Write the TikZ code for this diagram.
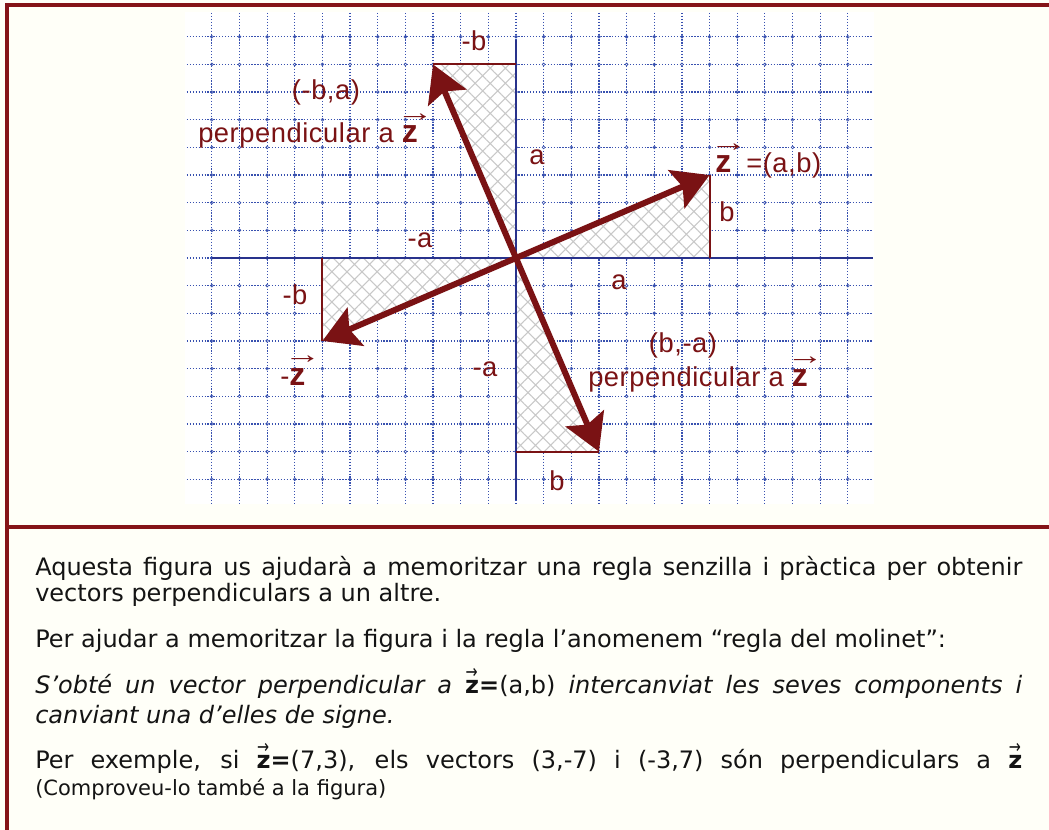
\documentclass[tikz,border=0pt]{standalone}
\usepackage{fontspec}
\setmainfont{DejaVu Sans}
\newfontfamily\labfont[LetterSpace=2]{Liberation Sans}
\usetikzlibrary{arrows.meta,patterns.meta}
\definecolor{framec}{RGB}{133,20,24}
\definecolor{vecc}{RGB}{122,18,20}
\definecolor{gridc}{RGB}{55,80,175}
\definecolor{axisc}{RGB}{40,50,140}
\definecolor{bgc}{RGB}{255,255,248}
\definecolor{hatchc}{RGB}{200,200,200}
\definecolor{txtc}{RGB}{20,20,20}
\newcommand\lz{\makebox[0pt][l]{\smash{\raisebox{0.8em}{\hspace{-0.2em}\fontsize{20}{20}\selectfont\scalebox{1.4}[1]{→}}}}{\fontsize{24}{24}\selectfont\bfseries z}}
\newcommand\tz{\makebox[0pt][l]{\smash{\raisebox{0.62em}{\hspace{0.02em}\scalebox{0.6}[0.8]{→}}}}\textbf{z}}
\tikzset{
  gridline/.style={gridc, line width=0.9pt, dash pattern=on 0.9pt off 1.3pt},
  gridring/.style={gridc, line width=0.45pt},
  axisline/.style={axisc, line width=1.2pt},
  legline/.style={vecc, line width=1.5pt},
  hatchfill/.style={pattern={Hatch[angle=45,distance=8pt,line width=0.8pt]}, pattern color=hatchc},
  vecarrow/.style={vecc, line width=4.5pt, -{Stealth[length=27pt,width=31pt,inset=5pt]}},
  lab/.style={text=vecc, font=\labfont\fontsize{20.5}{22}\selectfont, inner sep=0pt},
  txt/.style={text=txtc, font=\fontsize{18}{19.5}\selectfont, inner sep=0pt},
  framel/.style={framec, line width=3pt}
}
\begin{document}
\begin{tikzpicture}[x=0.75pt,y=-0.75pt]
\useasboundingbox (0,0) rectangle (1049,830);
\fill[bgc] (0,0) rectangle (1049,830);
\fill[white] (185,12) rectangle (874,504);
\begin{scope}[shift={(516,258)}, x=20.74pt, y=20.74pt]
  \foreach \i in {-11,...,12} \draw[gridline] (\i,8.86) -- (\i,-8.86);
  \foreach \j in {-8,...,8} \draw[gridline] (-11.9,\j) -- (12.91,\j);
  \foreach \i in {-11,...,12} \foreach \j in {-8,...,8} \draw[gridring] (\i,\j) circle (1.1pt);
  \coordinate (O) at (0,0);
  \coordinate (Z) at (7,3);
  \coordinate (P) at (-3,7);
  \coordinate (N) at (-7,-3);
  \coordinate (Q) at (3,-7);
  \coordinate (Zx) at (7,0);
  \coordinate (Py) at (0,7);
  \coordinate (Nx) at (-7,0);
  \coordinate (Qy) at (0,-7);
  \fill[white] (O) -- (Zx) -- (Z) -- cycle;
  \fill[white] (O) -- (Py) -- (P) -- cycle;
  \fill[white] (O) -- (Nx) -- (N) -- cycle;
  \fill[white] (O) -- (Qy) -- (Q) -- cycle;
  \fill[hatchfill] (O) -- (Zx) -- (Z) -- cycle;
  \fill[hatchfill] (O) -- (Py) -- (P) -- cycle;
  \fill[hatchfill] (O) -- (Nx) -- (N) -- cycle;
  \fill[hatchfill] (O) -- (Qy) -- (Q) -- cycle;
  \coordinate (xl) at (-11,0);
  \coordinate (xr) at (12.9,0);
  \coordinate (yt) at (0,7.88);
  \coordinate (yb) at (0,-8.75);
  \draw[axisline] (xl) -- (xr);
  \draw[axisline] (yt) -- (yb);
  \draw[legline] (Zx) -- (Z);
  \draw[legline] (Py) -- (P);
  \draw[legline] (Nx) -- (N);
  \draw[legline] (Qy) -- (Q);
  \draw[vecarrow] (O) -- (Z);
  \draw[vecarrow] (O) -- (P);
  \draw[vecarrow] (O) -- (N);
  \draw[vecarrow] (O) -- (Q);
\end{scope}
% labels
\node[lab, anchor=base] (lmb1) at (474,50.7) {-b};
\node[lab, anchor=base] (lpa) at (326,100) {(-b,a)};
\node[lab, anchor=base west] (lperp1) at (198,143) {perpendicular a \lz};
\node[lab, anchor=base] (lma1) at (420,248) {-a};
\node[lab, anchor=base] (la1) at (537,165) {a};
\node[lab, anchor=base west] (lz) at (715,173) {\lz\hspace{0.55em}=(a,b)};
\node[lab, anchor=base] (lb1) at (727,221.7) {b};
\node[lab, anchor=base] (la2) at (619,289.3) {a};
\node[lab, anchor=base] (lba) at (683,353) {(b,-a)};
\node[lab, anchor=base west] (lperp2) at (588,386.5) {perpendicular a \lz};
\node[lab, anchor=base] (lb2) at (557,490) {b};
\node[lab, anchor=base] (lmb2) at (295,305) {-b};
\node[lab, anchor=base west] (lmz) at (280,385) {-\lz};
\node[lab, anchor=base] (lma2) at (485,376.7) {-a};
% frame
\draw[framel] (5,5.3) -- (1049,5.3);
\draw[framel] (7,3.3) -- (7,830);
\draw[framel] (7,527) -- (1049,527);
% text
\node[txt, anchor=base west] (t1) at (35,575) {\makebox[740.25pt][s]{Aquesta figura us ajudarà a memoritzar una regla senzilla i pràctica per obtenir}};
\node[txt, anchor=base west] (t2) at (35,601) {vectors perpendiculars a un altre.};
\node[txt, anchor=base west] (t3) at (35,647) {Per ajudar a memoritzar la figura i la regla l’anomenem “regla del molinet”:};
\node[txt, anchor=base west] (t4) at (35,693) {\makebox[740.25pt][s]{\itshape S’obté un vector perpendicular a \upshape\tz\textbf{=}(a,b) \itshape intercanviat les seves components i}};
\node[txt, anchor=base west] (t5) at (35,723) {\itshape canviant una d’elles de signe.};
\node[txt, anchor=base west] (t6) at (35,768) {\makebox[740.25pt][s]{Per exemple, si \tz\textbf{=}(7,3), els vectors (3,-7) i (-3,7) són perpendiculars a \tz}};
\node[txt, anchor=base west, font=\fontsize{15.75}{17}\selectfont] (t7) at (35,795) {(Comproveu-lo també a la figura)};
\end{tikzpicture}
\end{document}
